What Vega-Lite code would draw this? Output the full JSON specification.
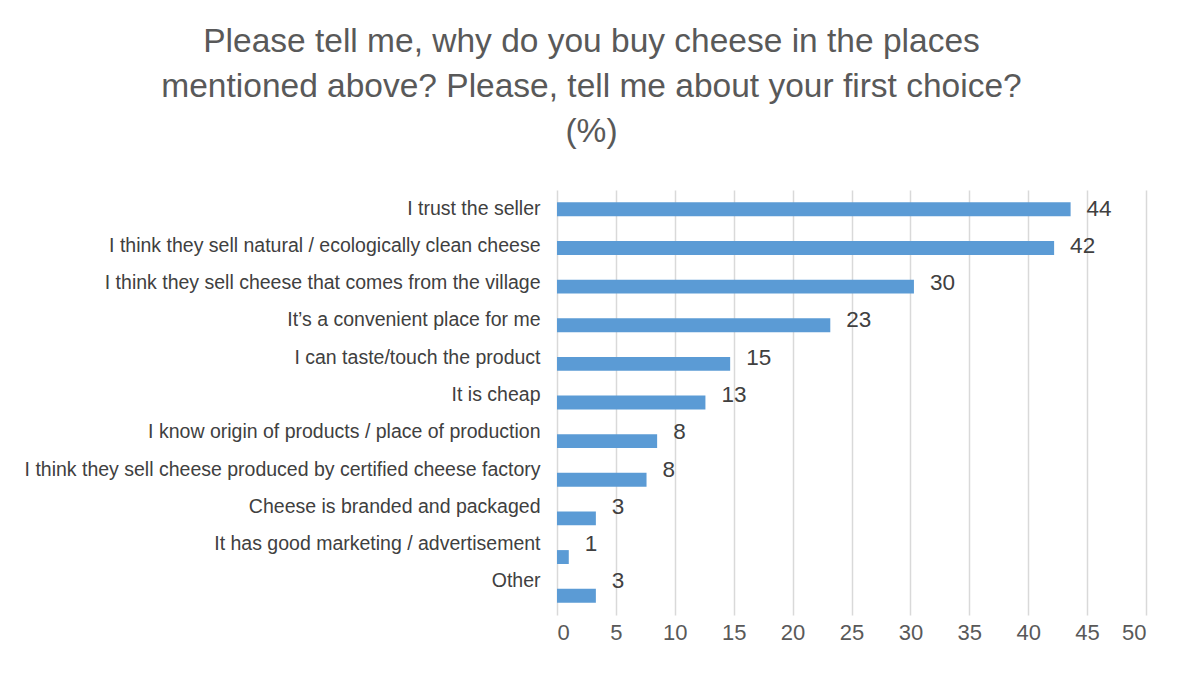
{
  "$schema": "https://vega.github.io/schema/vega-lite/v6.json",
  "autosize": {"type": "none"},
  "width": 589,
  "height": 425,
  "padding": {"left": 557, "top": 190, "right": 37, "bottom": 63},
  "background": "white",
  "title": {
    "text": ["Please tell me, why do you buy cheese in the places", "mentioned above? Please, tell me about your first choice?", "(%)"],
    "anchor": "middle",
    "frame": "group",
    "dx": -260,
    "font": "Liberation Sans",
    "fontSize": 33.5,
    "fontWeight": "normal",
    "color": "#595959",
    "lineHeight": 45,
    "offset": 41
  },
  "config": {
    "view": {"stroke": null},
    "font": "Liberation Sans"
  },
  "data": {
    "values": [
      {"reason": "I trust the seller", "value": 43.6, "label": "44"},
      {"reason": "I think they sell natural / ecologically clean cheese", "value": 42.2, "label": "42"},
      {"reason": "I think they sell cheese that comes from the village", "value": 30.3, "label": "30"},
      {"reason": "It’s a convenient  place for me", "value": 23.2, "label": "23"},
      {"reason": "I can taste/touch the product", "value": 14.7, "label": "15"},
      {"reason": "It is cheap", "value": 12.6, "label": "13"},
      {"reason": "I know origin of products / place of production", "value": 8.5, "label": "8"},
      {"reason": "I think they sell cheese produced  by certified cheese factory", "value": 7.6, "label": "8"},
      {"reason": "Cheese is branded  and packaged", "value": 3.3, "label": "3"},
      {"reason": "It has good marketing / advertisement", "value": 1.0, "label": "1"},
      {"reason": "Other", "value": 3.3, "label": "3"}
    ]
  },
  "encoding": {
    "x": {
      "field": "value",
      "type": "quantitative",
      "scale": {"domain": [0, 50], "nice": false},
      "axis": {
        "title": null,
        "values": [0, 5, 10, 15, 20, 25, 30, 35, 40, 45, 50],
        "grid": true,
        "gridColor": "#D9D9D9",
        "gridWidth": 1.5,
        "domain": false,
        "ticks": false,
        "labelFont": "Liberation Sans",
        "labelFontSize": 22,
        "labelColor": "#595959",
        "labelPadding": 7
      }
    }
  },
  "layer": [
    {
      "mark": {"type": "bar", "color": "#5B9BD5"},
      "encoding": {
        "y": {
          "field": "reason",
          "type": "nominal",
          "sort": null,
          "scale": {"type": "band", "paddingInner": 0.64, "paddingOuter": 0.32, "round": false},
          "axis": null
        }
      }
    },
    {
      "mark": {"type": "text", "align": "left", "baseline": "middle", "dx": 16, "fontSize": 22.5, "color": "#404040", "font": "Liberation Sans"},
      "encoding": {
        "y": {
          "field": "reason",
          "type": "nominal",
          "sort": null,
          "bandPosition": 0.5,
          "scale": {"type": "band", "paddingInner": 0, "paddingOuter": 0.2, "align": 0, "round": false},
          "axis": {
            "orient": "left",
            "title": null,
            "domain": false,
            "ticks": false,
            "grid": false,
            "labelFont": "Liberation Sans",
            "labelFontSize": 19.5,
            "labelColor": "#404040",
            "labelPadding": 17,
            "labelLimit": 0
          }
        },
        "text": {"field": "label"}
      }
    }
  ],
  "resolve": {"scale": {"y": "independent"}, "axis": {"y": "independent"}}
}
